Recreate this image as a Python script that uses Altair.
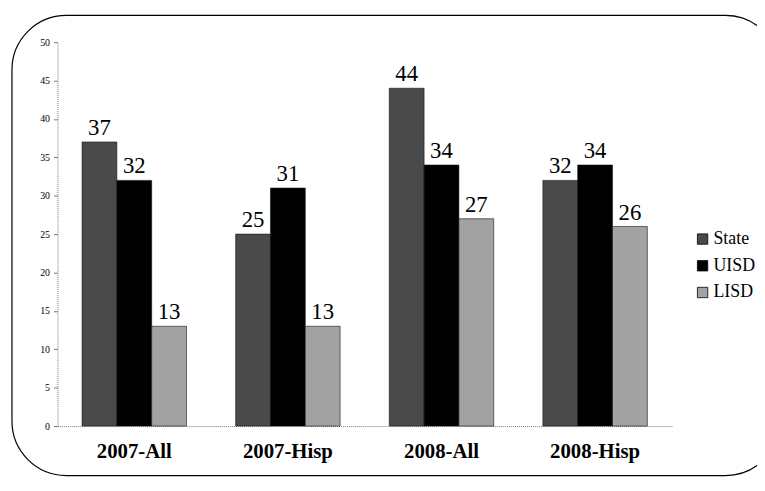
import altair as alt
import pandas as pd

groups = ["2007-All", "2007-Hisp", "2008-All", "2008-Hisp"]
series = ["State", "UISD", "LISD"]
state_vals = [37, 25, 44, 32]
uisd_vals = [32, 31, 34, 34]
lisd_vals = [13, 13, 27, 26]
colors = ["#4a4a4a", "#000000", "#a2a2a2"]
y_ticks = list(range(0, 51, 5))

rows = []
for i, g in enumerate(groups):
    for s, vals in zip(series, [state_vals, uisd_vals, lisd_vals]):
        rows.append({"group": g, "series": s, "value": vals[i]})
df = pd.DataFrame(rows)

FONT = "Times New Roman, Liberation Serif, DejaVu Serif, serif"
W, H = 621, 388

x = alt.X("group:N", sort=groups, title=None,
          scale=alt.Scale(paddingInner=0.32, paddingOuter=0.16),
          axis=alt.Axis(labelAngle=0, labelFont=FONT, labelFontSize=21,
                        labelFontWeight="bold", labelColor="black",
                        labelPadding=15, ticks=False, domainColor="#777",
                        domainDash=[1, 1], domainWidth=1))
xo = alt.XOffset("series:N", sort=series)
y = alt.Y("value:Q", title=None,
          scale=alt.Scale(domain=[0, 50], nice=False),
          axis=alt.Axis(values=y_ticks, grid=False, labelFont=FONT,
                        labelFontSize=10, labelColor="black", tickSize=4,
                        tickColor="#777", domainColor="#777",
                        domainDash=[1, 1], labelPadding=4,
                        labelOverlap=False))
color = alt.Color("series:N", sort=series,
                  scale=alt.Scale(domain=series, range=colors),
                  legend=alt.Legend(title=None, orient="none", legendX=643,
                                    legendY=190, symbolType="square",
                                    symbolSize=110, symbolStrokeColor="black",
                                    symbolStrokeWidth=0.8, labelFont=FONT,
                                    labelFontSize=18, labelColor="black",
                                    rowPadding=9, labelOffset=2))

base = alt.Chart(df)
bars = base.mark_bar(stroke="#111", strokeWidth=0.6).encode(
    x=x, xOffset=xo, y=y, color=color)
labels = base.mark_text(font=FONT, fontSize=23, baseline="bottom",
                        dy=-2, color="black").encode(
    x=x, xOffset=xo, y=y, text="value:Q")

frame = alt.Chart(pd.DataFrame({"a": [0]})).mark_rect(
    fill=None, stroke="black", strokeWidth=1.2, cornerRadius=55).encode(
    x=alt.value(-46), x2=alt.value(730), y=alt.value(-27), y2=alt.value(438))

chart = alt.layer(frame, bars, labels).properties(
    width=W, height=H,
    autosize=alt.AutoSizeParams(type="none"),
    padding={"left": 50, "top": 32, "right": 86, "bottom": 55},
).configure_view(stroke=None)

chart.save("out.html", embed_options={"renderer": "svg", "actions": False})
